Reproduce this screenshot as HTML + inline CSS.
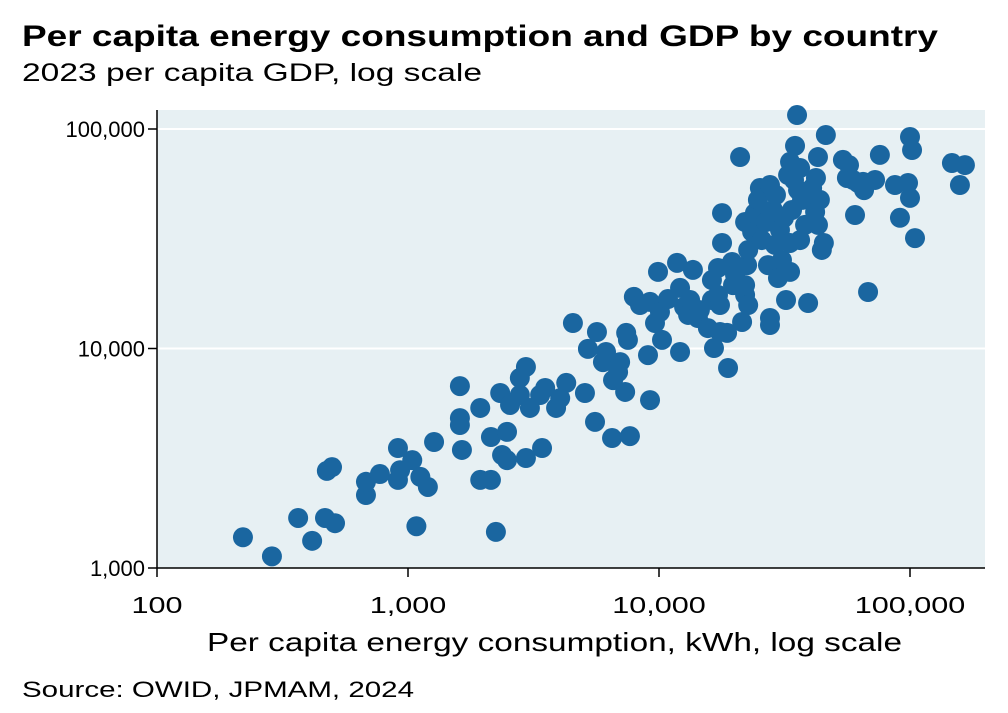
<!DOCTYPE html>
<html><head><meta charset="utf-8"><style>
body{margin:0;background:#fff;}
svg{display:block;font-family:"Liberation Sans",Arial,sans-serif;}
</style></head><body>
<svg id="chart" width="1008" height="713" viewBox="0 0 1008 713">
<text x="22" y="46" font-size="30" font-weight="bold" fill="#000" textLength="916" lengthAdjust="spacingAndGlyphs">Per capita energy consumption and GDP by country</text>
<text x="22" y="81" font-size="25" fill="#000" textLength="460" lengthAdjust="spacingAndGlyphs">2023 per capita GDP, log scale</text>
<rect x="157" y="110" width="828" height="458" fill="#e7f0f3"/>
<g id="grid"></g>
<g id="dots"></g>
<g id="axes"></g>
<text x="207" y="651" font-size="26" fill="#000" textLength="695" lengthAdjust="spacingAndGlyphs">Per capita energy consumption, kWh, log scale</text>
<text x="22" y="697" font-size="22" fill="#000" textLength="392" lengthAdjust="spacingAndGlyphs">Source: OWID, JPMAM, 2024</text>
</svg>
<script>
const energyKWh=[220,287,365,415,467,512,475,498,680,680,773,912,912,930,1040,1080,1120,1200,1270,1610,1610,1610,1640,1940,1940,2140,2140,2240,2330,2370,2480,2480,2550,2790,2790,2950,2950,3060,3360,3420,3520,3890,4040,4270,4540,5070,5210,5560,5660,5980,6150,6500,6560,6870,7000,7330,7520,7660,7400,7940,8400,9040,9210,9210,9640,9910,10090,10280,10860,11800,12130,12130,12590,13060,13300,13650,14290,14550,15660,16250,16250,17180,17180,17500,16560,17500,17830,18670,18840,17830,19550,19720,20090,21040,21430,22030,22030,22440,22660,22030,22660,23500,24110,24780,25230,25700,26670,27170,27680,27680,27680,28440,28970,29240,29780,30340,30900,31480,32070,32680,33270,33270,33270,33880,34830,35480,34510,35810,36480,36480,37150,38190,39270,40740,41880,42200,42990,42990,43750,44540,45370,46210,54040,56060,57150,59290,60390,62070,65010,65610,68060,75860,72580,87130,91200,98200,100000,100000,101900,104700,146900,158100,165500];
const gdpUSD=[1380,1130,1690,1330,1690,1600,2770,2880,2150,2470,2680,3520,2520,2790,3100,1550,2600,2340,3750,6740,4820,4480,3450,5360,2520,3950,2520,1460,6270,3270,4170,3100,5530,6140,7340,8240,3170,5360,6140,3520,6610,5360,5940,6970,13060,6270,9960,4630,11890,8670,9640,3910,7180,7810,8670,6340,10940,3990,11780,17190,15780,9330,5820,16300,13060,22340,14660,10940,16800,24560,9640,18880,15450,14220,16630,22800,13770,14960,12390,16630,20510,23280,17540,15780,10050,11890,30260,11780,8150,41400,24780,19450,21630,74500,13210,17540,19450,23990,15780,37690,28120,33970,41400,47550,53830,31190,37690,23990,55560,12790,13770,42760,29650,50040,20940,34670,25290,39400,16630,61700,70800,22340,30260,42760,83800,115800,58600,52680,66400,31190,47550,36560,16110,53830,41890,59840,74500,36560,47550,28120,30260,93900,72300,59840,68500,58600,40550,56770,57410,52680,18090,76200,58600,55560,39400,56770,92000,48530,80200,31840,69980,55560,68500];
const xTickVals=[100,1000,10000,100000];
const xTickLabels=["100","1,000","10,000","100,000"];
const yTickVals=[1000,10000,100000];
const yTickLabels=["1,000","10,000","100,000"];
const NS="http://www.w3.org/2000/svg";
const X0=157,X1=985,Y0=568,Y1=110;
function xScale(v){return 157+(Math.log10(v)-2)*251;}
function yScale(v){return 568-(Math.log10(v)-3)*219.5;}
function mk(t,a,p){const e=document.createElementNS(NS,t);for(const k in a)e.setAttribute(k,a[k]);p.appendChild(e);return e;}
const grid=document.getElementById('grid'),dots=document.getElementById('dots'),axes=document.getElementById('axes');
yTickVals.forEach((v,i)=>{
 const y=yScale(v);
 if(i>0){const g=mk('line',{x1:X0,x2:X1,y1:y,y2:y,stroke:'#fff','stroke-width':2},grid);
 
 }
 const t=mk('line',{x1:X0-9,x2:X0,y1:y,y2:y,stroke:'#000','stroke-width':1.5},axes);
 
 
 const l=mk('text',{x:X0-12,y:y+8,'font-size':22,'text-anchor':'end',fill:'#000'},axes);
 l.textContent=yTickLabels[i];
 
 
});
xTickVals.forEach((v,i)=>{
 const x=xScale(v);
 const t=mk('line',{x1:x,x2:x,y1:Y0,y2:Y0+9,stroke:'#000','stroke-width':1.5},axes);
 
 
 const l=mk('text',{x:x,y:Y0+45,'font-size':23,'text-anchor':'middle',fill:'#000'},axes);
 l.textContent=xTickLabels[i];
 
 
 const w=l.getComputedTextLength()*1.33;
 l.setAttribute('textLength',w);
 l.setAttribute('lengthAdjust','spacingAndGlyphs');
});
const ya=mk('line',{x1:X0,x2:X0,y1:Y1,y2:Y0,stroke:'#000','stroke-width':1.5},axes);


const xa=mk('line',{x1:X0,x2:X1,y1:Y0,y2:Y0,stroke:'#000','stroke-width':1.5},axes);


energyKWh.forEach((v,i)=>{
 const c=mk('circle',{cx:xScale(v),cy:yScale(gdpUSD[i]),r:10,fill:'#1a66a0'},dots);
 
 
});
</script>
</body></html>
